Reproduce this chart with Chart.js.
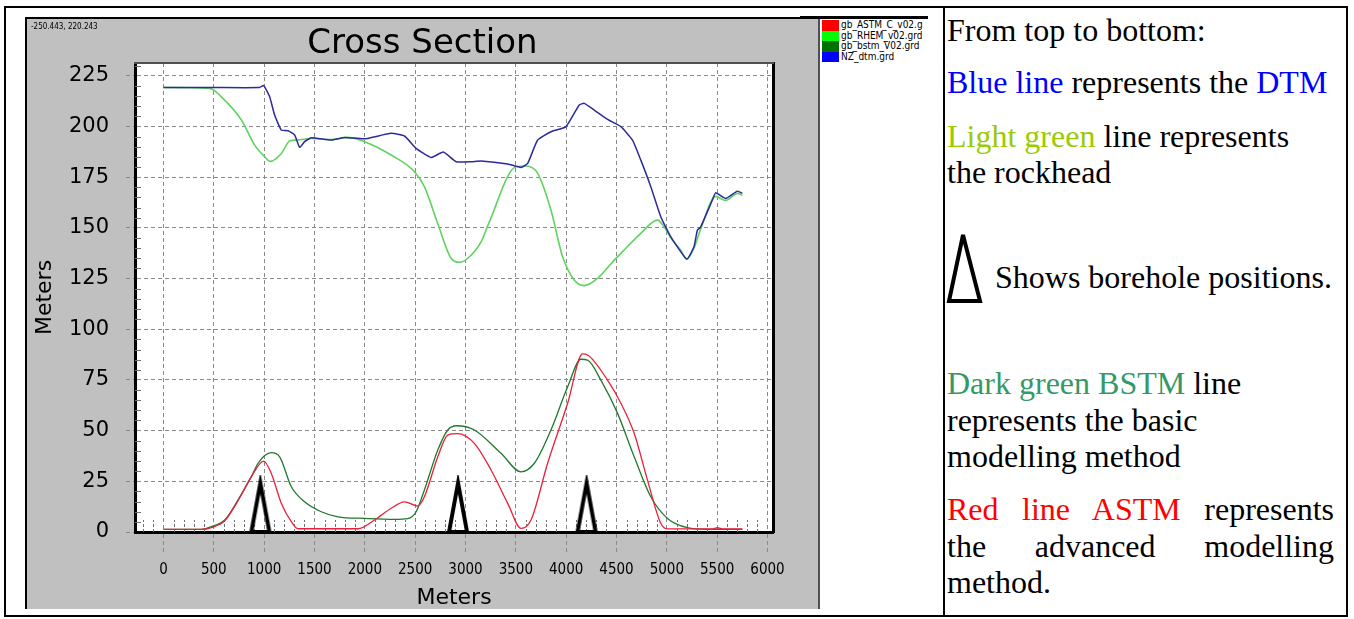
<!DOCTYPE html>
<html>
<head>
<meta charset="utf-8">
<script src="https://cdn.jsdelivr.net/npm/chart.js@4.4.0/dist/chart.umd.min.js"></script>
<style>
body { margin:0; width:1354px; height:619px; background:#fff; position:relative; overflow:hidden; }
#frame { position:absolute; left:4px; top:6px; width:1344px; height:611px; border:2px solid #000; box-sizing:border-box; }
#midline { position:absolute; left:943px; top:6px; width:2px; height:611px; background:#000; }
#panel { position:absolute; left:25px; top:17px; width:795px; height:592px; background:#c0c0c0;
  border-left:2px solid #000; border-top:2px solid #000; border-right:2px solid #505050; box-sizing:border-box; }
#panel canvas { position:absolute; left:0; top:0; }
#coords { position:absolute; left:31px; top:22px; font:8px "DejaVu Sans Condensed", sans-serif; color:#000; }
#legTop { position:absolute; left:800px; top:16px; width:128px; height:3px; background:#000; }
#legend { position:absolute; left:822px; top:20px; font:10px "DejaVu Sans Condensed", sans-serif; color:#000; }
#legend div { height:10.5px; line-height:10.5px; white-space:nowrap; }
#legend span { display:inline-block; width:17px; height:10.5px; vertical-align:top; margin-right:2px; }
.txt { position:absolute; left:947px; font:32px "Liberation Serif", "Times New Roman", serif; line-height:36.8px; color:#000; white-space:nowrap; }
.just { width:387px; text-align:justify; text-align-last:justify; }
</style>
</head>
<body>
<div id="frame"></div>
<div id="midline"></div>
<div id="panel"><canvas id="myChart" width="791" height="590"></canvas></div>
<div id="coords">-250.443, 220.243</div>
<div id="legTop"></div>
<div id="legend"></div>

<div class="txt" style="top:11.5px">From top to bottom:</div>
<div class="txt" style="top:63.5px"><span style="color:#0000ff">Blue line</span> represents the <span style="color:#0000ff">DTM</span></div>
<div class="txt" style="top:117.5px"><span style="color:#99cc00">Light green</span> line represents<br>the rockhead</div>
<svg style="position:absolute;left:945px;top:230px" width="40" height="76">
  <polygon points="18,5 4,71 35,71" fill="none" stroke="#000" stroke-width="4"/>
</svg>
<div class="txt" style="top:258.8px;left:995px">Shows borehole positions.</div>
<div class="txt" style="top:364.8px"><span style="color:#339966">Dark green BSTM</span> line<br>represents the basic<br>modelling method</div>
<div class="txt just" style="top:490.8px"><span style="color:#ff0000">Red line ASTM</span> represents</div>
<div class="txt just" style="top:527.6px">the advanced modelling</div>
<div class="txt" style="top:564.4px">method.</div>

<script>
// series names as shown in the legend
var seriesNames = ['gb_ASTM_C_v02.g', 'gb_RHEM_v02.grd', 'gb_bstm_V02.grd', 'NZ_dtm.grd'];
var legendColors = ['#ff0000', '#00ff00', '#007000', '#0000ff'];

// axis ticks
var xTicks = [0, 500, 1000, 1500, 2000, 2500, 3000, 3500, 4000, 4500, 5000, 5500, 6000];
var yTicks = [0, 25, 50, 75, 100, 125, 150, 175, 200, 225];

// DTM (blue)
var dtmX = [0, 500, 950, 995, 1055, 1104, 1171, 1237, 1303, 1353, 1402, 1468, 1667, 1799, 1997, 2262, 2394, 2510, 2659, 2780, 2907, 3056, 3155, 3420, 3552, 3618, 3717, 3849, 3998, 4130, 4180, 4279, 4411, 4544, 4659, 4742, 4841, 4940, 5040, 5198, 5270, 5304, 5337, 5453, 5486, 5585, 5701, 5751];
var dtmY = [219.2, 219.2, 219.2, 220.2, 214.6, 205.6, 198.2, 197.9, 195.8, 189.7, 192.5, 194.4, 193.3, 194.6, 193.9, 196.6, 195.3, 189.2, 184.7, 187.4, 182.6, 182.6, 183, 181.5, 179.8, 181.8, 193.3, 197.4, 199.9, 210.6, 211.4, 208.1, 203.5, 199.9, 193.3, 183.4, 170.3, 155.5, 145.6, 134.6, 140.7, 148.9, 150.5, 163.7, 167.3, 164.5, 168.1, 167];

// rockhead (light green)
var rhemX = [0, 460, 575, 774, 906, 1005, 1060, 1171, 1253, 1330, 1468, 1667, 1832, 1997, 2262, 2493, 2592, 2725, 2857, 2940, 3023, 3155, 3231, 3502, 3601, 3717, 3849, 3965, 4080, 4180, 4312, 4478, 4544, 4742, 4907, 4973, 5040, 5139, 5198, 5270, 5337, 5486, 5585, 5701, 5751];
var rhemY = [219.2, 218.8, 214.6, 203.2, 190.8, 185.1, 182.8, 186.7, 192.8, 193.3, 194.1, 193.5, 194.6, 192.5, 185.9, 177.7, 170.3, 152, 135, 133, 135, 143.1, 152.2, 180.1, 180.5, 176.9, 158.8, 135.7, 124.3, 121.5, 125.1, 134.1, 137.4, 147.3, 153.8, 150.5, 145, 139, 134.5, 140, 149.5, 165.5, 163.5, 167, 166];

// basic model BSTM (dark green)
var bstmX = [0, 377, 476, 608, 741, 873, 939, 1071, 1154, 1270, 1402, 1567, 1733, 1997, 2295, 2427, 2510, 2592, 2725, 2824, 2910, 3088, 3353, 3552, 3684, 3849, 4015, 4147, 4213, 4345, 4511, 4676, 4841, 5007, 5205, 5400, 5751];
var bstmY = [1.3, 1.3, 2.6, 5.9, 15.8, 27.3, 33.9, 39.1, 37.1, 22.3, 14.9, 10, 7.5, 6.7, 6.2, 6.6, 10, 20.7, 40.4, 50.3, 52.4, 50.3, 38.8, 29.7, 33.9, 50.3, 71.6, 85.2, 84.8, 74.9, 58.5, 37.1, 17.4, 6.7, 2.1, 1.3, 1.3];

// advanced model ASTM (red)
var astmX = [0, 377, 476, 608, 741, 873, 995, 1071, 1171, 1270, 1336, 1932, 2096, 2262, 2394, 2527, 2592, 2725, 2824, 2923, 3088, 3254, 3420, 3552, 3651, 3816, 4015, 4164, 4213, 4411, 4544, 4676, 4808, 4940, 5007, 5450, 5503, 5560, 5751];
var astmY = [1.3, 1.3, 2.2, 5.5, 15.5, 27.3, 35, 28.9, 14.1, 5.1, 1.6, 1.6, 5.9, 11.7, 14.9, 12.8, 17.4, 37.1, 47.8, 48.5, 43.7, 30.6, 14.1, 1.8, 5.9, 33.9, 63.5, 87.8, 87.3, 74.9, 63.5, 48.7, 25.6, 4.3, 1.5, 1.5, 2.1, 1.5, 1.5];

// borehole positions along the section
var boreholeX = [962, 2926, 4203];

function pts(xs, ys) {
    return xs.map(function (x, i) { return {x: x, y: ys[i]}; });
}

// html legend
var leg = document.getElementById('legend');
seriesNames.forEach(function (n, i) {
    leg.innerHTML += '<div><span style="background:' + legendColors[i] + '"></span>' + n + '</div>';
});

// tall open triangle used as the borehole marker
function boreholeMarker() {
    var c = document.createElement('canvas');
    c.width = 28; c.height = 114;
    var g = c.getContext('2d');
    g.strokeStyle = '#000';
    g.lineWidth = 4;
    g.beginPath();
    g.moveTo(14, 8); g.lineTo(5, 57); g.lineTo(23, 57); g.closePath();
    g.stroke();
    return c;
}

var plotBg = {
    id: 'plotBg',
    beforeDraw: function (chart) {
        var a = chart.chartArea, ctx = chart.ctx;
        ctx.save();
        ctx.fillStyle = '#fff';
        ctx.fillRect(a.left, a.top, a.right - a.left, a.bottom - a.top);
        ctx.restore();
    }
};

// small minor ticks: every 5 m on the left, every 100 m along the bottom
var minorTicks = {
    id: 'minorTicks',
    beforeDatasetsDraw: function (chart) {
        var ctx = chart.ctx, a = chart.chartArea, x = chart.scales.x, y = chart.scales.y;
        ctx.save();
        ctx.strokeStyle = '#707070';
        ctx.lineWidth = 1;
        for (var v = 5; v < y.max; v += 5) {
            if (yTicks.indexOf(v) >= 0) continue;
            var py = Math.round(y.getPixelForValue(v)) + 0.5;
            ctx.beginPath(); ctx.moveTo(a.left, py); ctx.lineTo(a.left + 6, py); ctx.stroke();
        }
        ctx.setLineDash([3, 2]);
        for (var u = -200; u < x.max; u += 100) {
            if (xTicks.indexOf(u) >= 0) continue;
            var px = Math.round(x.getPixelForValue(u)) + 0.5;
            ctx.beginPath(); ctx.moveTo(px, a.bottom); ctx.lineTo(px, a.bottom - 12); ctx.stroke();
        }
        ctx.restore();
    }
};

var gridDash = [4, 3];

var ctx = document.getElementById('myChart').getContext('2d');
var myChart = new Chart(ctx, {
    type: 'line',
    data: {
        datasets: [{
            label: seriesNames[0],
            data: pts(astmX, astmY),
            borderColor: '#e8203a',
            borderWidth: 1.3,
            cubicInterpolationMode: 'monotone',
            order: 1
        }, {
            label: seriesNames[1],
            data: pts(rhemX, rhemY),
            borderColor: '#5fd35f',
            borderWidth: 1.6,
            cubicInterpolationMode: 'monotone',
            order: 3
        }, {
            label: seriesNames[2],
            data: pts(bstmX, bstmY),
            borderColor: '#1f7a2e',
            borderWidth: 1.3,
            cubicInterpolationMode: 'monotone',
            order: 2
        }, {
            label: seriesNames[3],
            data: pts(dtmX, dtmY),
            borderColor: '#2b2b9c',
            borderWidth: 1.5,
            tension: 0.15,
            order: 0
        }, {
            label: 'boreholes',
            data: boreholeX.map(function (x) { return {x: x, y: 0}; }),
            showLine: false,
            pointStyle: boreholeMarker(),
            pointRadius: 10,
            clip: false,
            order: 4
        }]
    },
    options: {
        responsive: false,
        animation: false,
        events: [],
        elements: { point: { radius: 0 } },
        plugins: {
            legend: { display: false },
            tooltip: { enabled: false },
            title: {
                display: true,
                text: 'Cross Section',
                color: '#000',
                font: { family: 'DejaVu Sans', size: 34, weight: 'normal', lineHeight: 1.05 },
                padding: { top: 7, bottom: 1.3 }
            }
        },
        scales: {
            x: {
                type: 'linear',
                position: 'bottom',
                min: -283,
                max: 6055,
                afterFit: function (s) { s.height = 77; },
                afterBuildTicks: function (s) { s.ticks = xTicks.map(function (v) { return {value: v}; }); },
                ticks: {
                    autoSkip: false,
                    maxRotation: 0,
                    padding: 6,
                    color: '#000',
                    font: { family: 'DejaVu Sans Condensed', size: 15 },
                    callback: function (v) { return String(v); }
                },
                grid: {
                    color: '#8a8a8a',
                    tickLength: 23,
                    tickColor: '#8a8a8a',
                    tickBorderDash: gridDash
                },
                border: { display: true, color: '#000', width: 3, dash: gridDash },
                title: {
                    display: true,
                    text: 'Meters',
                    color: '#000',
                    font: { family: 'DejaVu Sans', size: 22, lineHeight: 1 },
                    padding: 0
                }
            },
            y: {
                type: 'linear',
                position: 'left',
                min: 0,
                max: 231.3,
                afterFit: function (s) { s.width = 108; },
                afterBuildTicks: function (s) { s.ticks = yTicks.map(function (v) { return {value: v}; }); },
                ticks: {
                    autoSkip: false,
                    padding: 17,
                    color: '#000',
                    font: { family: 'DejaVu Sans', size: 21 }
                },
                grid: {
                    color: '#8a8a8a',
                    tickLength: 9,
                    tickColor: '#8a8a8a',
                    tickBorderDash: gridDash
                },
                border: { display: true, color: '#000', width: 3, dash: gridDash },
                title: {
                    display: true,
                    text: 'Meters',
                    color: '#000',
                    font: { family: 'DejaVu Sans', size: 22, lineHeight: 1.2 },
                    padding: { top: 5, bottom: 0 }
                }
            },
            yRight: {
                type: 'linear',
                position: 'right',
                afterFit: function (s) { s.width = 45; },
                ticks: { display: false },
                grid: { display: false, drawTicks: false },
                border: { display: true, color: '#000', width: 3 }
            },
            xTop: {
                type: 'linear',
                position: 'top',
                afterFit: function (s) { s.height = 0; },
                ticks: { display: false },
                grid: { display: false, drawTicks: false },
                border: { display: true, color: '#505050', width: 2 }
            }
        }
    },
    plugins: [plotBg, minorTicks]
});
</script>
</body>
</html>
